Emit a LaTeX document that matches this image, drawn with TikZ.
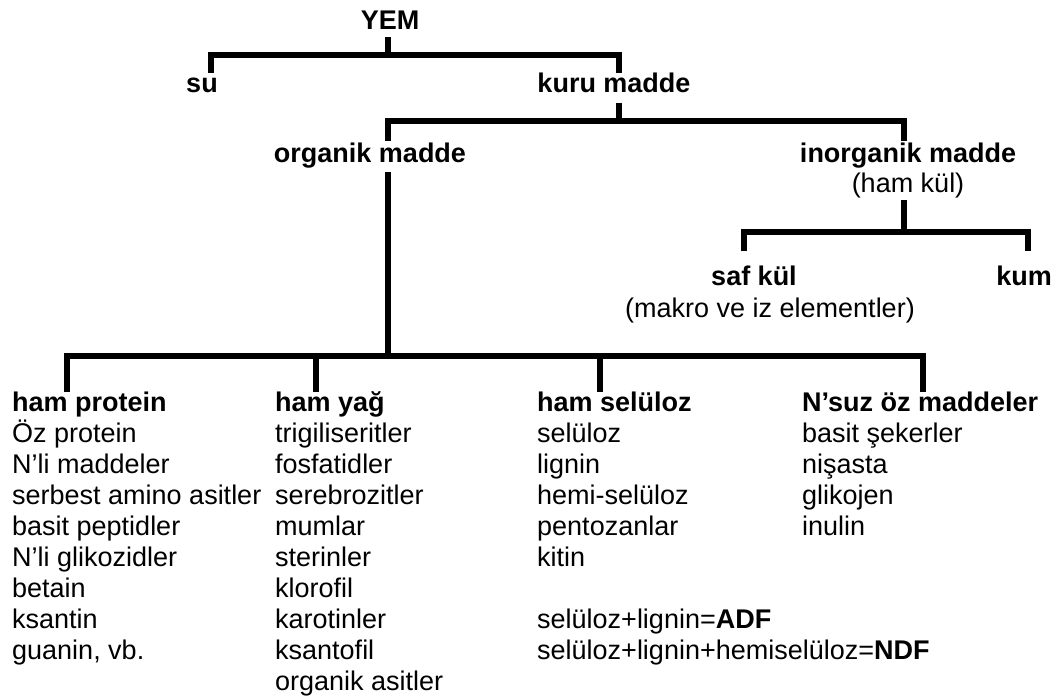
\documentclass[tikz,border=0pt]{standalone}
\usepackage{fontspec}
\setmainfont{Liberation Sans}
\begin{document}
\begin{tikzpicture}[x=1pt,y=-1pt,
  lab/.style={inner sep=0pt, anchor=base, font=\fontsize{27}{31}\selectfont\bfseries},
  sub/.style={inner sep=0pt, anchor=base, font=\fontsize{27}{31}\selectfont},
  head/.style={inner sep=0pt, anchor=base west, font=\fontsize{27}{31}\selectfont\bfseries},
  item/.style={inner sep=0pt, anchor=base west, font=\fontsize{27}{31}\selectfont},
  tree/.style={line width=6pt, line join=miter, line cap=butt}]
\useasboundingbox (0,0) rectangle (1056,697);
% labels
\node[lab] (yem) at (390,29) {YEM};
\node[lab] (su) at (202,92) {su};
\node[lab] (kuru) at (614,92) {kuru madde};
\node[lab] (org) at (370,162) {organik madde};
\node[lab] (inorg) at (908,162) {inorganik madde};
\node[sub] (hamkul) at (908,192) {(ham kül)};
\node[lab] (saf) at (754,285) {saf kül};
\node[lab] (kum) at (1024,285) {kum};
\node[sub] (makro) at (770,317) {(makro ve iz elementler)};
% bracket coordinates
\coordinate (y1) at (388,37);  \coordinate (y2) at (388,55);
\coordinate (sL) at (211,73);  \coordinate (sLt) at (211,55);
\coordinate (kR) at (619,73);  \coordinate (kRt) at (619,55);
\coordinate (k1) at (619,103); \coordinate (k2) at (619,121);
\coordinate (oL) at (388,141); \coordinate (oLt) at (388,121);
\coordinate (iR) at (904,141); \coordinate (iRt) at (904,121);
\coordinate (h1) at (904,200); \coordinate (h2) at (904,232);
\coordinate (fL) at (744,251); \coordinate (fLt) at (744,232);
\coordinate (mR) at (1028,251); \coordinate (mRt) at (1028,232);
\coordinate (o1) at (388,172); \coordinate (o2) at (388,356);
\coordinate (c1) at (67,392);  \coordinate (c1t) at (67,356);
\coordinate (c2) at (316,392); \coordinate (c2t) at (316,356);
\coordinate (c3) at (600,392); \coordinate (c3t) at (600,356);
\coordinate (c4) at (923,392); \coordinate (c4t) at (923,356);
% brackets
\draw[tree] (y1) -- (y2);
\draw[tree] (sL) -- (sLt) -- (kRt) -- (kR);
\draw[tree] (k1) -- (k2);
\draw[tree] (oL) -- (oLt) -- (iRt) -- (iR);
\draw[tree] (h1) -- (h2);
\draw[tree] (fL) -- (fLt) -- (mRt) -- (mR);
\draw[tree] (o1) -- (o2);
\draw[tree] (c1) -- (c1t) -- (c4t) -- (c4);
\draw[tree] (c2t) -- (c2);
\draw[tree] (c3t) -- (c3);
% columns
\node[head] (hp) at (12,411.5) {ham protein};
\node[head] (hy) at (275,411.5) {ham yağ};
\node[head] (hs) at (537,411.5) {ham selüloz};
\node[head] (nz) at (802,411.5) {N’suz öz maddeler};
\foreach \t [count=\i] in {Öz protein, N’li maddeler, serbest amino asitler, basit peptidler, N’li glikozidler, betain, ksantin, {guanin, vb.}}
  \node[item] (p\i) at (12,{411.5+31*\i}) {\t};
\foreach \t [count=\i] in {trigiliseritler, fosfatidler, serebrozitler, mumlar, sterinler, klorofil, karotinler, ksantofil, organik asitler}
  \node[item] (y\i) at (275,{411.5+31*\i}) {\t};
\foreach \t [count=\i] in {selüloz, lignin, hemi-selüloz, pentozanlar, kitin}
  \node[item] (s\i) at (537,{411.5+31*\i}) {\t};
\node[item] (adf) at (537,{411.5+31*7}) {selüloz+lignin=\textbf{ADF}};
\node[item] (ndf) at (537,{411.5+31*8}) {selüloz+lignin+hemiselüloz=\textbf{NDF}};
\foreach \t [count=\i] in {basit şekerler, nişasta, glikojen, inulin}
  \node[item] (n\i) at (802,{411.5+31*\i}) {\t};
\end{tikzpicture}
\end{document}
